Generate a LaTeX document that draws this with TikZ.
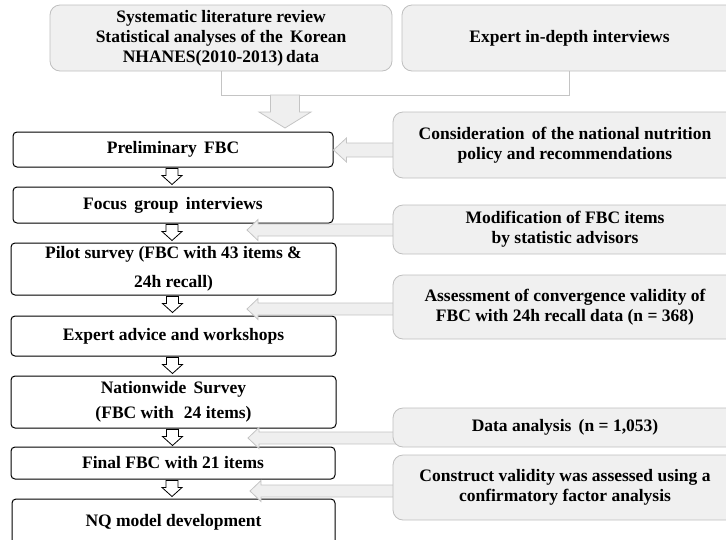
\documentclass[tikz,border=0pt]{standalone}
\usepackage{fontspec}
\setmainfont{Liberation Serif}
\usetikzlibrary{calc}
\definecolor{boxfill}{HTML}{F0F0F0}
\definecolor{boxline}{HTML}{BFBFBF}
\definecolor{arrfill}{HTML}{EFEFEF}
\definecolor{arrline}{HTML}{C4C4C4}
\newcommand\downarr[1]{\draw[smallarrow] ($(#1.south)+(-7,1)$) -- ++(0,7) -- ++(-4,0) -- ++(10,9) -- ++(10,-9) -- ++(-4,0) -- ++(0,-7) -- cycle;}
\newcommand\sidearr[5]{% tip coordinate, tail x, head length, head half, shaft half
  \draw[bigarrow] (#1) -- ++(#3,-#4) -- ++(0,#4-#5) -- (#2,0 |- {$(#1)+(0,-#5)$}) -- ({#2},0 |- {$(#1)+(0,#5)$}) -- ($(#1)+(#3,#5)$) -- ($(#1)+(#3,#4)$) -- cycle;}
\begin{document}
\begin{tikzpicture}[x=1pt,y=-1pt,
  lbox/.style={draw=black, line width=1pt, rounded corners=4pt, fill=white, inner sep=0pt, align=center,
    font=\bfseries\fontsize{17.5}{20}\selectfont},
  gbox/.style={draw=boxline, line width=0.8pt, rounded corners=10pt, fill=boxfill, inner sep=0pt, align=center,
    font=\bfseries\fontsize{17.5}{20}\selectfont},
  bigarrow/.style={draw=arrline, fill=arrfill, line width=0.8pt},
  smallarrow/.style={draw=black, fill=white, line width=0.8pt},
  bracketline/.style={draw=arrline, line width=0.9pt}]
\useasboundingbox (0,0) rectangle (726,539);
\clip (0,0) rectangle (726,539);

% top boxes
\node[gbox, minimum width=342pt, minimum height=66pt] (sys) at (221,38)
  {Systematic literature review\\Statistical analyses of the\, Korean\\NHANES(2010-2013)\,data};
\node[gbox, minimum width=335pt, minimum height=66pt] (exp) at (569.5,38) {Expert in-depth interviews};

% bracket and big arrow
\draw[bracketline] (sys.south) -- ++(0,24) coordinate (bl) -| (exp.south);
\coordinate (bigtop) at (285,95);
\draw[bigarrow] ($(bigtop)+(-14.5,0)$) -- ++(0,17) -- ++(-11.5,0) -- ++(26,16) coordinate (bigtip) -- ++(26,-16) -- ++(-11.5,0) -- ++(0,-17) -- cycle;

% left column
\node[lbox, minimum width=320pt, minimum height=35pt] (prelim) at (173,149.5) {Preliminary\, FBC};
\node[lbox, minimum width=320pt, minimum height=36pt] (focus) at (173,205) {Focus\, group\, interviews};
\node[lbox, minimum width=325pt, minimum height=52pt] (pilot) at (173.5,269) {Pilot survey (FBC with 43 items \&\\[9pt]24h recall)};
\node[lbox, minimum width=325pt, minimum height=40pt] (expert) at (173.5,336) {Expert advice and workshops};
\node[lbox, minimum width=325pt, minimum height=52pt] (nation) at (173.5,402) {Nationwide\, Survey\\[5pt](FBC with\,\, 24 items)};
\node[lbox, minimum width=324pt, minimum height=32pt] (final) at (173,463) {Final FBC with 21 items};
\node[lbox, minimum width=323pt, minimum height=46pt] (nq) at (173.5,522) {NQ model development};

\downarr{prelim}
\downarr{focus}
\downarr{pilot}
\downarr{expert}
\downarr{nation}
\downarr{final}

% side arrows (drawn before right boxes so the tails are hidden)
\coordinate (t1) at (prelim.east |- 0,150);
\coordinate (t2) at (247,230);
\coordinate (t3) at (247,309);
\coordinate (t4) at (248,438);
\coordinate (t5) at (250,491);
\draw[bigarrow] (t1) -- ++(13,-12) -- ++(0,5) -- ++(60,0) -- ++(0,14) -- ++(-60,0) -- ++(0,5) -- cycle;
\foreach \t in {t2,t3,t4,t5}{
  \draw[bigarrow] (\t) -- ++(11,-10.5) -- ++(0,4.5) -- ++(145,0) -- ++(0,12) -- ++(-145,0) -- ++(0,4.5) -- cycle;
}

% right column
\node[gbox, minimum width=344pt, minimum height=66pt] (cons) at (565,145)
  {Consideration\, of the national nutrition\\policy and recommendations};
\node[gbox, minimum width=344pt, minimum height=49pt] (modif) at (565,229.5)
  {Modification of FBC items\\by statistic advisors};
\node[gbox, minimum width=344pt, minimum height=64pt] (assess) at (565,307)
  {Assessment of convergence validity of\\FBC with 24h recall data (n = 368)};
\node[gbox, minimum width=344pt, minimum height=39pt] (data) at (565,427.5)
  {Data analysis\, (n = 1,053)};
\node[gbox, minimum width=344pt, minimum height=65pt] (constr) at (565,487.5)
  {Construct validity was assessed using a\\confirmatory factor analysis};
\end{tikzpicture}
\end{document}
